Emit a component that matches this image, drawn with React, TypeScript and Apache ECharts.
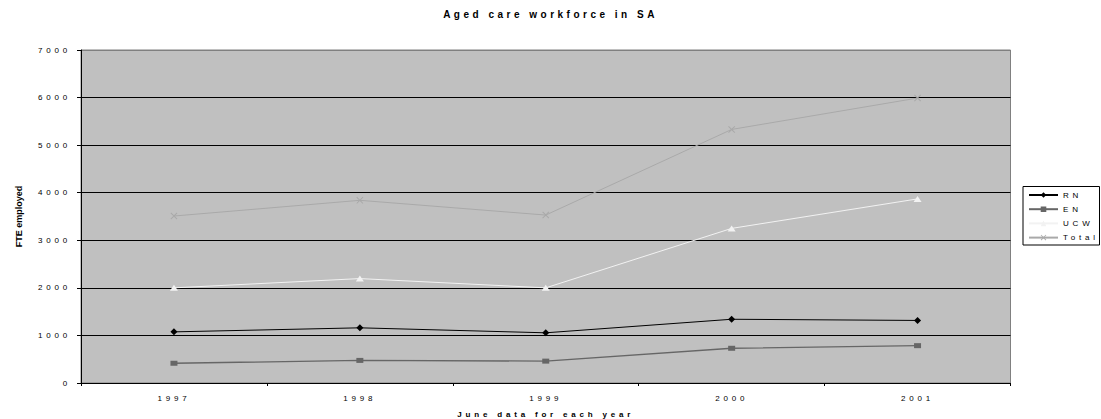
import React, { useEffect, useRef } from "react";
import * as echarts from "echarts";

const years = ["1997", "1998", "1999", "2000", "2001"];
const rnValues = [1075, 1160, 1055, 1340, 1315];
const enValues = [415, 475, 460, 730, 785];
const ucwValues = [2000, 2195, 2000, 3250, 3870];
const totalValues = [3510, 3840, 3530, 5330, 5990];
const seriesNames = ["RN", "EN", "UCW", "Total"];

const FONT = "'Liberation Sans', Arial, sans-serif";
const CROSS =
  "path://M0,1L1,0L5,4L9,0L10,1L6,5L10,9L9,10L5,6L1,10L0,9L4,5Z";

export default function App() {
  const ref = useRef<HTMLDivElement>(null);
  useEffect(() => {
    if (!ref.current) return;
    const chart = echarts.init(ref.current, null, { renderer: "svg" });
    const gridColors = ["#000", "#000", "#000", "#000", "#000", "#000", "#000", "#808080"];
    chart.setOption({
      animation: false,
      backgroundColor: "#ffffff",
      textStyle: { fontFamily: FONT },
      title: {
        text: "Aged care workforce in SA",
        left: "center",
        top: 9,
        padding: 0,
        textStyle: { fontSize: 10, fontWeight: "bold", color: "#000", fontFamily: FONT },
      },
      grid: {
        left: 81,
        right: 90.5,
        top: 50,
        bottom: 36,
        outerBoundsMode: "none",
        containLabel: false,
        show: true,
        backgroundColor: "#c0c0c0",
        borderColor: "#808080",
        borderWidth: 1,
      },
      legend: {
        orient: "vertical",
        left: 1028,
        top: 190,
        itemWidth: 29,
        itemHeight: 7,
        itemGap: 4.2,
        padding: 0,
        data: seriesNames,
        textStyle: { fontSize: 8, lineHeight: 10, color: "#000", fontFamily: FONT, padding: [0, 0, 0, 0] },
      },
      graphic: [
        {
          type: "rect",
          z: 0,
          shape: { x: 1023, y: 186.5, width: 76.5, height: 58.5 },
          style: { fill: "#ffffff", stroke: "#000", lineWidth: 1 },
        },
      ],
      xAxis: {
        type: "category",
        data: years,
        boundaryGap: true,
        axisLine: { show: true, lineStyle: { color: "#000", width: 1 } },
        axisTick: { show: true, length: 3, lineStyle: { color: "#000" } },
        axisLabel: { fontSize: 8, color: "#000", margin: 11, fontFamily: FONT },
        splitLine: { show: false },
        name: "June data for each year",
        nameLocation: "middle",
        nameGap: 27,
        nameTextStyle: { fontSize: 8, fontWeight: "bold", color: "#000", fontFamily: FONT },
      },
      yAxis: {
        type: "value",
        min: 0,
        max: 7000,
        interval: 1000,
        axisLine: { show: true, lineStyle: { color: "#000", width: 1 } },
        axisTick: { show: true, length: 4, lineStyle: { color: "#000" } },
        axisLabel: {
          fontSize: 8,
          color: "#000",
          margin: 10,
          fontFamily: FONT,
          formatter: (v: number) => String(v),
        },
        splitLine: { show: true, lineStyle: { color: gridColors, width: 1 } },
        name: "FTE employed",
        nameLocation: "middle",
        nameGap: 58,
        nameTextStyle: { fontSize: 9, fontWeight: "bold", color: "#000", fontFamily: FONT },
      },
      series: [
        {
          name: "RN",
          type: "line",
          data: rnValues,
          symbol: "diamond",
          symbolSize: [7, 7],
          lineStyle: { color: "#000", width: 1 },
          itemStyle: { color: "#000" },
          z: 5,
        },
        {
          name: "EN",
          type: "line",
          data: enValues,
          symbol: "rect",
          symbolSize: [7, 5],
          lineStyle: { color: "#666666", width: 1.3 },
          itemStyle: { color: "#666666" },
          z: 4,
        },
        {
          name: "UCW",
          type: "line",
          data: ucwValues,
          symbol: "triangle",
          symbolSize: [8, 6],
          lineStyle: { color: "#f2f2f2", width: 1 },
          itemStyle: { color: "#f2f2f2" },
          z: 3,
        },
        {
          name: "Total",
          type: "line",
          data: totalValues,
          symbol: CROSS,
          symbolSize: 7,
          lineStyle: { color: "#a9a9a9", width: 1 },
          itemStyle: { color: "#a9a9a9" },
          z: 2,
        },
      ],
    });
    return () => chart.dispose();
  }, []);

  const css = `
#chartbox text { letter-spacing: 3.8px; }
#chartbox text[style*="10px"] { letter-spacing: 3.5px; }
#chartbox text[style*="9px"] { letter-spacing: 0px; }
`;

  return (
    <>
      <style>{css}</style>
      <div
        id="chartbox"
        ref={ref}
        style={{ position: "absolute", left: 0, top: 0, width: 1101, height: 419 }}
      />
    </>
  );
}
